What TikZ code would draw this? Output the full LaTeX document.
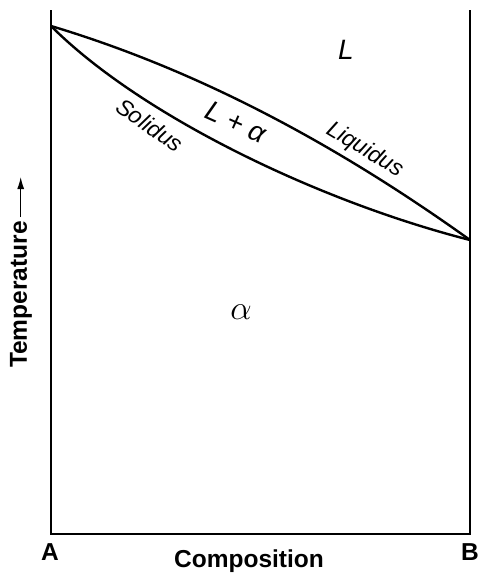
\RequirePackage{fix-cm}
\documentclass[tikz,border=0pt]{standalone}
\usepackage{fontspec}
\newfontfamily\lsans{Liberation Sans}
\usetikzlibrary{arrows.meta}
\tikzset{
  frame/.style={line width=2.5pt, line cap=butt},
  curve/.style={line width=2.4pt},
  boldlab/.style={inner sep=0pt, font=\lsans\bfseries\fontsize{24.5}{28}\selectfont},
  itlab/.style={inner sep=0pt, font=\lsans\itshape\fontsize{23}{26}\selectfont},
  biglab/.style={inner sep=0pt, font=\lsans\itshape\fontsize{28}{32}\selectfont},
  tarrow/.style={line width=1.2pt, -{Latex[length=12pt,width=7pt]}}
}
\begin{document}
\begin{tikzpicture}[x=1pt,y=-1pt]
\useasboundingbox (0,0) rectangle (477,573);
% frame corners
\coordinate (TL) at (51,10);
\coordinate (BL) at (51,534);
\coordinate (BR) at (470,534);
\coordinate (TR) at (470,10);
\draw[frame] (TL) -- (BL) -- (BR) -- (TR);
% melting points
\coordinate (mA) at (51,26);
\coordinate (mB) at (470,240);
% liquidus
\draw[curve] (mA) .. controls (191,68) and (329,139) .. (mB);
% solidus
\draw[curve] (mA) .. controls (141,116) and (319,201.5) .. (mB);
% labels
\node[biglab] (Lreg) at (346,50) {L};
\node[biglab, rotate=-24] (LA) at (236,122) {L + α};
\node[itlab, rotate=-35] (sol) at (150,125) {Solidus};
\node[itlab, rotate=-31] (liq) at (365,150) {Liquidus};
\node[inner sep=0pt] (alpha) at (241,312) {\fontsize{34}{38}\selectfont$\alpha$};
\node[boldlab, anchor=base] (A) at (50,560) {A};
\node[boldlab, anchor=base] (B) at (470,560) {B};
\node[boldlab, anchor=base] (comp) at (249,567) {Composition};
\node[boldlab, rotate=90, anchor=base west] (temp) at (27,368) {Temperature};
\coordinate (tail) at (20.7,217);
\coordinate (tip) at (20.7,177);
\draw[tarrow] (tail) -- (tip);
\end{tikzpicture}
\end{document}
